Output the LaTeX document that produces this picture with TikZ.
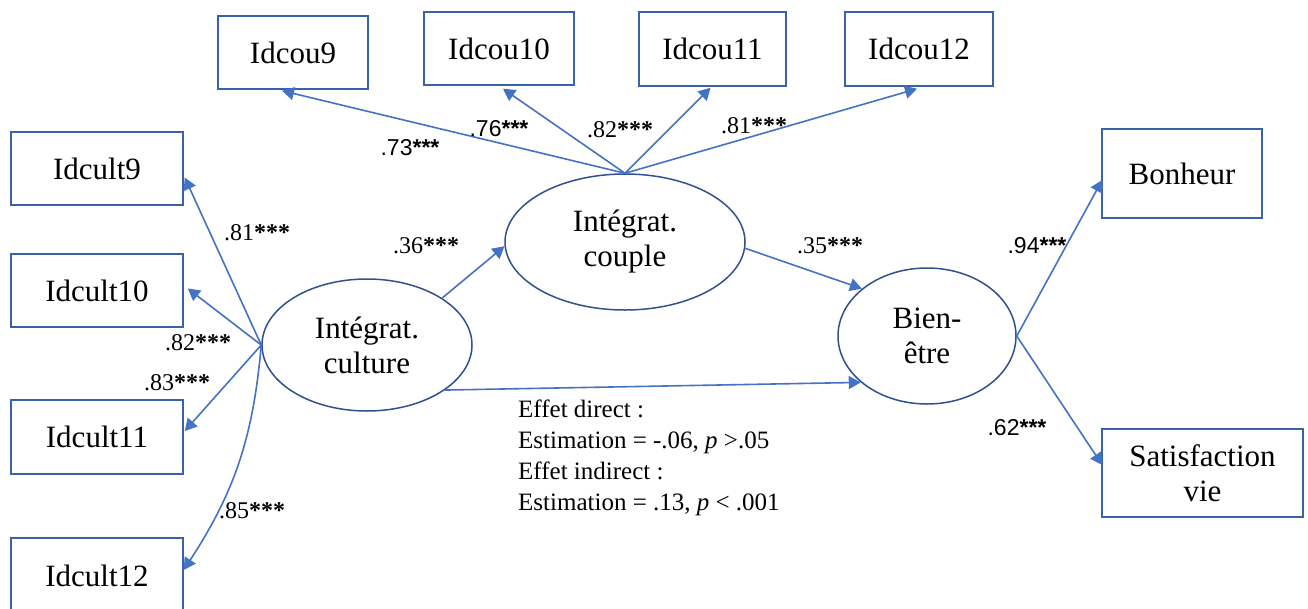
\documentclass[tikz,border=0pt]{standalone}
\usepackage{fontspec}
\setmainfont{Liberation Serif}
\newfontfamily\coeffont{Liberation Sans}
\usetikzlibrary{arrows.meta,calc,shapes.geometric}

\definecolor{boxblue}{HTML}{3A62A8}
\definecolor{ellblue}{HTML}{2F528F}
\definecolor{arrblue}{HTML}{4472C4}

% significance stars, set in a heavier serif
\newcommand{\stars}{\textbf{***}}

\begin{document}
\begin{tikzpicture}[x=1pt,y=-1pt,
  obs/.style={draw=boxblue, line width=1.5pt, rectangle, inner sep=0pt,
    font=\fontsize{31}{35}\selectfont, align=center},
  lat/.style={draw=ellblue, line width=1.5pt, ellipse, inner sep=0pt,
    font=\fontsize{31}{35}\selectfont, align=center},
  arr/.style={draw=arrblue, line width=1.6pt, -{Triangle[length=12pt,width=13pt]}},
  coef/.style={font=\fontsize{24}{28}\selectfont, inner sep=0pt},
  coefsans/.style={font=\fontsize{23}{27}\selectfont, inner sep=0pt,
    execute at begin node=\coeffont},
]
% page frame
\fill[white] (0,0) rectangle (1308,608);
\clip (0,0) rectangle (1308,608);

% latent variables
\node[lat, minimum width=210pt, minimum height=132pt] (cult) at (367,345) {Intégrat.\\culture};
\node[lat, minimum width=240pt, minimum height=136pt] (cpl)  at (625,242) {Intégrat.\\couple};
\node[lat, minimum width=178pt, minimum height=136pt] (bien) at (927,336) {Bien-\\être};

% couple indicators
\node[obs, minimum width=150pt, minimum height=73pt] (cou9)  at (293,52.5) {Idcou9};
\node[obs, minimum width=150pt, minimum height=73pt] (cou10) at (499,48.5) {Idcou10};
\node[obs, minimum width=147pt, minimum height=74pt] (cou11) at (712.5,49) {Idcou11};
\node[obs, minimum width=148pt, minimum height=74pt] (cou12) at (919,49) {Idcou12};

% culture indicators
\node[obs, minimum width=172pt, minimum height=73pt] (cult9)  at (97,168.5) {Idcult9};
\node[obs, minimum width=172pt, minimum height=73pt] (cult10) at (97,290.5) {Idcult10};
\node[obs, minimum width=172pt, minimum height=74pt] (cult11) at (97,437) {Idcult11};
\node[obs, minimum width=172pt, minimum height=76pt] (cult12) at (97,576) {Idcult12};

% well-being indicators
\node[obs, minimum width=160pt, minimum height=89pt] (bonh) at (1182,173.5) {Bonheur};
\node[obs, minimum width=201pt, minimum height=88pt] (satv) at (1202.5,473) {Satisfaction\\vie};

% loadings: couple
\draw[arr] (cpl.north) -- ($(cou9.south)+(-11,1)$);
\draw[arr] (cpl.north) -- ($(cou10.south)+(4,3)$);
\draw[arr] (cpl.north) -- ($(cou11.south)+(-2,1)$);
\draw[arr] (cpl.north) -- ($(cou12.south)+(-2,2)$);

% loadings: culture
\draw[arr] (cult.west) -- ($(cult9.east)+(1,9)$);
\draw[arr] (cult.west) -- ($(cult10.east)+(4,-2)$);
\draw[arr] (cult.west) -- ($(cult11.east)+(1,-6)$);
\draw[arr] (cult.west) to[bend left=14] ($(cult12.east)+(0,-6)$);

% loadings: well-being
\draw[arr] (bien.east) -- ($(bonh.west)+(1,6.5)$);
\draw[arr] (bien.east) -- ($(satv.west)+(1,-8)$);

% structural paths
\draw[arr] (cult.32) -- (cpl.182);
\draw[arr] (cpl.-3) -- (bien.144);
\draw[arr] (cult.-30) -- (bien.215);

% coefficients
\node[coefsans] (l73)  at (410,148) {.73\stars};
\node[coefsans] (l76)  at (499,129) {.76\stars};
\node[coef]     (l82t) at (620,130) {.82\stars};
\node[coef]     (l81t) at (754,126) {.81\stars};
\node[coef]     (l81)  at (257,233) {.81\stars};
\node[coef]     (l82)  at (198,343) {.82\stars};
\node[coef]     (l83)  at (177,383) {.83\stars};
\node[coef]     (l85)  at (252,511) {.85\stars};
\node[coef]     (l36)  at (426,246) {.36\stars};
\node[coef]     (l35)  at (830,246) {.35\stars};
\node[coefsans] (l94)  at (1037,246) {.94\stars};
\node[coefsans] (l62)  at (1017,428) {.62\stars};

% effect summary
\node[anchor=north west, inner sep=0pt, align=left,
      font=\fontsize{25}{31}\selectfont] (eff) at (518,400)
  {Effet direct :\\
   Estimation = -.06, \textit{p} >.05\\
   Effet indirect :\\
   Estimation = .13, \textit{p} < .001};
\end{tikzpicture}
\end{document}
